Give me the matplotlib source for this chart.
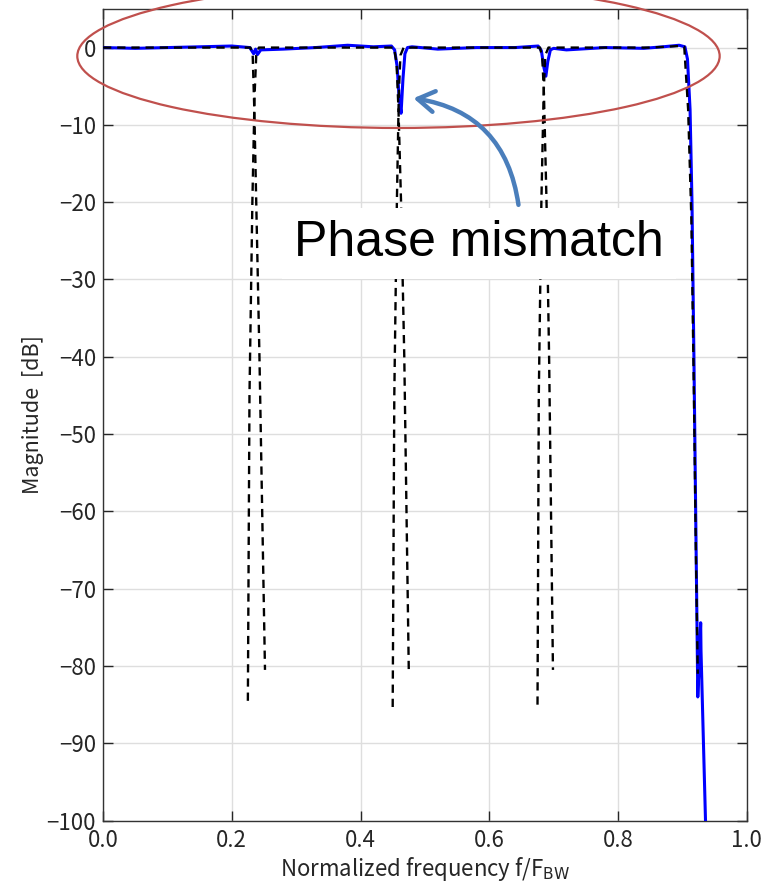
import numpy as np
import matplotlib.pyplot as plt
from matplotlib.patches import Ellipse, FancyArrowPatch

plt.rcParams['font.family'] = ['Noto Sans CJK JP', 'DejaVu Sans']

# overall (reconstructed) response, blue
resp_x = [0.0, 0.05, 0.10, 0.15, 0.20, 0.228, 0.234, 0.237, 0.240, 0.245, 0.28, 0.33, 0.38, 0.42,
          0.448, 0.453, 0.457, 0.460, 0.463, 0.466, 0.469, 0.473, 0.48, 0.52, 0.58, 0.64, 0.676,
          0.681, 0.685, 0.688, 0.691, 0.695, 0.70, 0.72, 0.78, 0.84, 0.87, 0.895, 0.904, 0.908,
          0.912, 0.915, 0.918, 0.921, 0.9235, 0.924, 0.926, 0.9285, 0.929, 0.936]
resp_y = [0.0, -0.1, 0.0, 0.1, 0.2, 0.0, -0.8, -0.2, -0.9, -0.3, -0.2, 0.0, 0.3, 0.1,
          0.2, -0.3, -2.5, -6.5, -8.5, -4.0, -0.8, 0.0, 0.1, -0.2, 0.0, 0.0, 0.2,
          -0.4, -2.6, -3.7, -1.8, -0.3, -0.1, -0.3, 0.0, -0.1, 0.1, 0.3, 0.1, -1.5,
          -8.0, -20.0, -40.0, -62.0, -80.0, -84.0, -80.0, -74.4, -78.0, -100.0]

# ideal sub-band responses, dashed (bands overlap at the notches)
band_x = [
    [0.0, 0.10, 0.20, 0.229, 0.2325, 0.235, 0.238, 0.243, 0.2516],
    [0.225, 0.2275, 0.232, 0.2355, 0.238, 0.242, 0.30, 0.38, 0.44, 0.452, 0.456, 0.459, 0.463, 0.468, 0.475],
    [0.450, 0.4525, 0.4565, 0.4595, 0.462, 0.467, 0.55, 0.62, 0.668, 0.679, 0.6825, 0.685, 0.689, 0.693, 0.699],
    [0.675, 0.677, 0.681, 0.6845, 0.687, 0.692, 0.78, 0.85, 0.895, 0.903, 0.909, 0.914, 0.918, 0.921, 0.924],
]
band_y = [
    [0.0, 0.0, 0.0, 0.0, -1.0, -8.0, -20.0, -40.0, -80.5],
    [-84.5, -45.0, -20.0, -6.0, -1.0, 0.0, 0.0, 0.0, 0.0, 0.0, -2.0, -8.0, -20.0, -40.0, -80.6],
    [-85.3, -45.0, -20.0, -6.0, -1.0, 0.0, 0.0, 0.0, 0.0, 0.0, -1.5, -6.0, -20.0, -40.0, -80.5],
    [-85.0, -45.0, -20.0, -6.0, -1.0, 0.0, 0.0, 0.0, 0.2, 0.1, -8.0, -22.0, -45.0, -65.0, -81.0],
]

x_ticks = [0.0, 0.2, 0.4, 0.6, 0.8, 1.0]
y_ticks = [0, -10, -20, -30, -40, -50, -60, -70, -80, -90, -100]

fig = plt.figure(figsize=(7.69, 8.92), dpi=100)
ax = fig.add_axes([0.134, 0.080, 0.837, 0.910])

ax.plot(resp_x, resp_y, color='#0000ff', lw=2.2, zorder=3)
for bx, by in zip(band_x, band_y):
    ax.plot(bx, by, color='black', ls=(0, (3.5, 2.5)), lw=1.7, zorder=4)

ax.set_xlim(0, 1)
ax.set_ylim(-100, 5)
ax.set_xticks(x_ticks)
ax.set_xticklabels([f'{t:.1f}' for t in x_ticks])
ax.set_yticks(y_ticks)
ax.set_yticklabels([str(t).replace('-', '\u2212') for t in y_ticks])
ax.grid(True, color='#dedede', lw=1.0)
ax.set_axisbelow(True)
ax.tick_params(direction='in', length=7, width=1, top=True, right=True,
               labelsize=16, colors='#262626')
ax.tick_params(axis='x', pad=6)
ax.tick_params(axis='y', pad=5)
for s in ax.spines.values():
    s.set_color('#333333')
    s.set_linewidth(1.0)

ax.set_xlabel(r'Normalized frequency f/F$_{\mathrm{BW}}$', fontsize=16, color='#262626', labelpad=2)
ax.set_ylabel('Magnitude  [dB]', fontsize=15.5, color='#262626')
ax.yaxis.set_label_coords(-0.092, 0.5)

# annotation
ell = Ellipse((0.459, -1.1), 0.998, 18.6, fill=False, ec='#c0504d', lw=1.6,
              clip_on=False, zorder=5)
ax.add_patch(ell)

ax.text(0.584, -25.3, 'Phase mismatch', fontsize=36, ha='center', va='center',
        family=['Liberation Sans', 'DejaVu Sans'], zorder=6,
        bbox=dict(boxstyle='square,pad=0.25', fc='white', ec='none'))

arr = FancyArrowPatch((0.646, -20.7), (0.478, -6.5), connectionstyle='arc3,rad=0.38',
                      arrowstyle='->,head_length=8,head_width=5', color='#4a7ebb',
                      lw=3.2, zorder=7, mutation_scale=1.5)
ax.add_patch(arr)

fig.savefig('out.png', dpi=100)
